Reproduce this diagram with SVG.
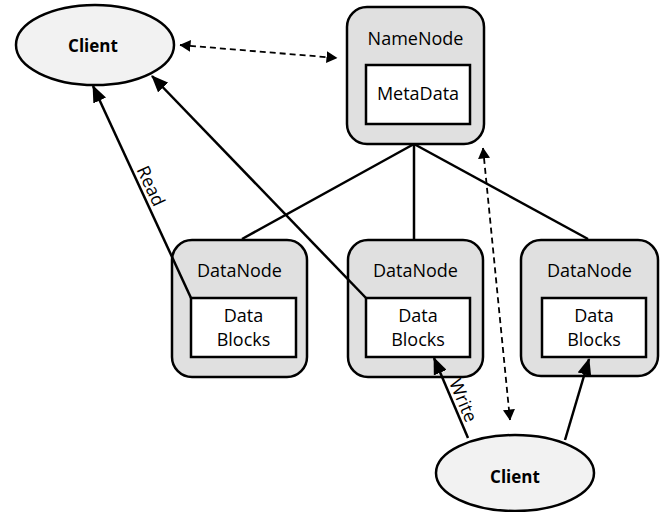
<svg xmlns="http://www.w3.org/2000/svg" width="663" height="512" viewBox="0 0 663 512">
  <style>
    .node { fill: #e0e0e0; stroke: #000; stroke-width: 2.5; }
    .inner { fill: #fff; stroke: #000; stroke-width: 2.5; }
    .client { fill: #f2f2f2; stroke: #000; stroke-width: 2.5; }
    .lbl { font-family: "Open Sans", "Noto Sans", "DejaVu Sans", sans-serif; font-size: 18px; fill: #000; text-anchor: middle; }
    .bold { font-weight: bold; font-size: 17px; }
    .link { stroke: #000; stroke-width: 2.5; fill: none; }
    .dash { stroke: #000; stroke-width: 1.8; fill: none; stroke-dasharray: 6 4; }
  </style>
  <defs>
    <marker id="arrow" markerUnits="userSpaceOnUse" viewBox="0 0 17 14" refX="16" refY="7" markerWidth="17" markerHeight="14" orient="auto">
      <path d="M0,0 L17,7 L0,14 Z" fill="#000"/>
    </marker>
    <marker id="darrow" markerUnits="userSpaceOnUse" viewBox="0 0 11 12" refX="10.5" refY="6" markerWidth="11" markerHeight="12" orient="auto-start-reverse">
      <path d="M0,0 L11,6 L0,12 Z" fill="#000"/>
    </marker>
  </defs>

  <g id="client-top">
    <ellipse class="client" cx="95" cy="45" rx="79" ry="40"/>
    <text class="lbl bold" x="93" y="52">Client</text>
  </g>

  <g id="namenode">
    <rect class="node" x="347" y="7" width="137" height="137" rx="20"/>
    <text class="lbl" x="415.5" y="45">NameNode</text>
    <rect class="inner" x="366" y="65" width="104" height="59"/>
    <text class="lbl" x="418" y="100">MetaData</text>
  </g>

  <g id="datanode-1">
    <rect class="node" x="172" y="240" width="135" height="137" rx="20"/>
    <text class="lbl" x="239.5" y="277">DataNode</text>
    <rect class="inner" x="191" y="298" width="105" height="59"/>
    <text class="lbl" x="243.5" y="322">Data</text>
    <text class="lbl" x="243.5" y="346">Blocks</text>
  </g>

  <g id="datanode-2">
    <rect class="node" x="348" y="240" width="135" height="137" rx="20"/>
    <text class="lbl" x="415.5" y="277">DataNode</text>
    <rect class="inner" x="366" y="298" width="104" height="59"/>
    <text class="lbl" x="418" y="322">Data</text>
    <text class="lbl" x="418" y="346">Blocks</text>
  </g>

  <g id="datanode-3">
    <rect class="node" x="521" y="240" width="137" height="136" rx="20"/>
    <text class="lbl" x="589.5" y="277">DataNode</text>
    <rect class="inner" x="542" y="298" width="104" height="59"/>
    <text class="lbl" x="594" y="322">Data</text>
    <text class="lbl" x="594" y="346">Blocks</text>
  </g>

  <g id="client-bottom">
    <ellipse class="client" cx="515" cy="473" rx="79" ry="38"/>
    <text class="lbl bold" x="515" y="483">Client</text>
  </g>

  <g id="connectors">
    <!-- NameNode to DataNodes -->
    <line class="link" x1="414" y1="144" x2="242" y2="239"/>
    <line class="link" x1="414" y1="144" x2="414" y2="240"/>
    <line class="link" x1="414" y1="144" x2="588" y2="239"/>
    <!-- client / namenode metadata exchange -->
    <line class="dash" x1="180" y1="45" x2="337" y2="58" marker-start="url(#darrow)" marker-end="url(#darrow)"/>
    <line class="dash" x1="483" y1="148" x2="510" y2="420" marker-start="url(#darrow)" marker-end="url(#darrow)"/>
    <!-- read paths -->
    <line class="link" x1="191" y1="298" x2="93" y2="86" marker-end="url(#arrow)"/>
    <line class="link" x1="366" y1="298" x2="152" y2="76" marker-end="url(#arrow)"/>
    <!-- write paths -->
    <line class="link" x1="468" y1="438" x2="434" y2="358" marker-end="url(#arrow)"/>
    <line class="link" x1="565" y1="440" x2="589" y2="359" marker-end="url(#arrow)"/>
    <!-- edge labels, baseline running just beside each line -->
    <text class="lbl" transform="translate(141.5,190.4) rotate(65)" y="-4">Read</text>
    <text class="lbl" transform="translate(453.8,404.5) rotate(67)" y="-4">Write</text>
  </g>
</svg>
